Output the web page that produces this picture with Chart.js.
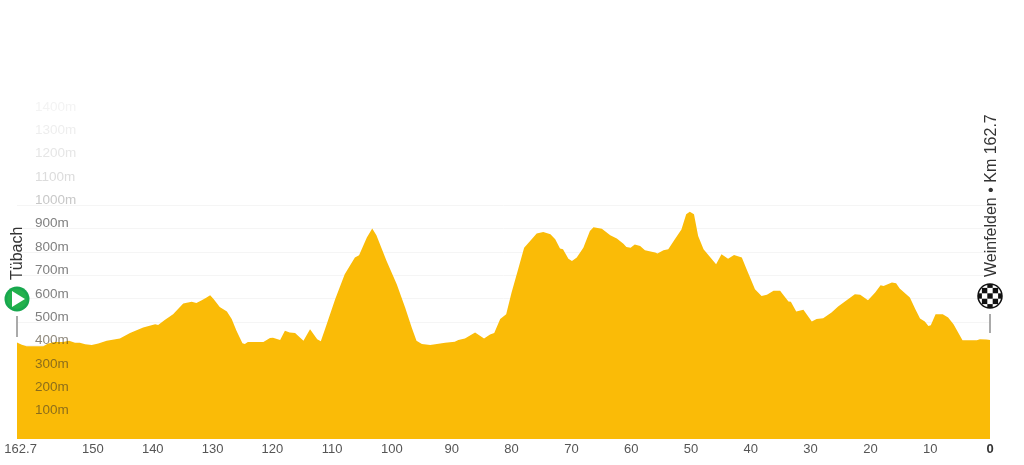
<!DOCTYPE html>
<html>
<head>
<meta charset="utf-8">
<title>Etappenprofil</title>
<style>
  html, body { margin: 0; padding: 0; background: #fff; }
  #profil { display: block; }
</style>
<script src="https://cdn.jsdelivr.net/npm/chart.js@4/dist/chart.umd.min.js"></script>
</head>
<body>
<canvas id="profil" width="1024" height="465"></canvas>
<script>
const kmRest = [162.7,161.9,161.1,158.3,157.5,156.4,155.0,154.0,153.0,152.2,151.3,150.2,149.1,147.7,145.5,143.8,141.6,139.6,139.1,138.0,136.6,134.9,133.5,132.7,131.8,131.0,130.4,129.8,128.8,127.6,126.8,126.0,125.0,124.6,124.1,121.5,120.4,119.9,118.7,117.9,117.1,116.2,114.8,113.7,112.5,111.9,111.2,109.5,107.9,106.2,105.5,104.2,103.3,102.6,100.9,99.2,97.8,96.7,95.9,95.0,93.6,91.1,89.5,88.9,87.8,86.1,84.6,83.6,82.9,81.9,80.9,80.0,78.9,77.9,76.9,75.8,74.7,73.5,72.7,71.9,71.4,70.5,69.9,69.1,68.0,66.9,66.3,64.9,63.5,62.4,61.3,60.8,60.1,59.4,58.5,57.7,56.0,55.6,54.6,53.8,52.7,51.6,50.8,50.2,49.5,48.8,47.9,45.8,44.9,43.8,42.8,41.5,40.7,39.3,38.2,37.3,36.2,35.1,33.7,33.3,32.4,31.2,29.8,29.0,27.9,26.5,25.4,22.6,21.7,20.4,19.2,18.3,17.8,16.4,15.7,15.1,13.4,12.5,11.7,10.9,10.3,9.9,9.1,7.9,7.0,6.1,4.6,2.2,1.7,0.6,0];
const hoehe = [413,403,397,397,409,415,415,420,412,412,405,402,409,420,430,454,477,491,488,509,534,580,587,582,594,606,615,598,565,546,513,463,410,406,415,415,432,433,424,463,456,453,420,470,427,418,470,598,705,777,786,862,901,872,762,662,563,477,420,406,402,412,416,424,430,456,430,447,453,513,534,627,727,819,848,880,886,876,855,815,812,772,762,777,819,890,906,900,872,858,836,822,819,833,826,808,798,794,808,812,855,897,962,973,962,869,812,748,791,772,788,777,727,641,612,617,634,634,588,587,546,553,503,513,517,541,567,620,617,594,627,658,655,670,667,644,606,556,516,503,484,487,534,534,520,491,423,423,427,426,424];
const kmTicks = [162.7,150,140,130,120,110,100,90,80,70,60,50,40,30,20,10,0];
const hoeheTicks = [100,200,300,400,500,600,700,800,900,1000,1100,1200,1300,1400];
const startName = "Tübach";
const zielName = "Weinfelden • Km 162.7";

const ctx = document.getElementById("profil").getContext("2d");
const schrift = "'Liberation Sans', Arial, sans-serif";

// obere Labels laufen nach oben hin aus
const labelFarben = { 1000: "#c8c8c8", 1100: "#dcdcdc", 1200: "#e6e6e6", 1300: "#eeeeee", 1400: "#f3f3f3" };

function startMarker(c, x, y) {
  c.beginPath(); c.arc(x, y, 12.5, 0, Math.PI * 2); c.fillStyle = "#17a74e"; c.fill();
  c.beginPath(); c.arc(x, y, 10, 0, Math.PI * 2); c.fillStyle = "#22b14c"; c.fill();
  c.beginPath(); c.moveTo(x - 5, y - 8); c.lineTo(x + 8, y); c.lineTo(x - 5, y + 8); c.closePath();
  c.fillStyle = "#fff"; c.fill();
}

function zielMarker(c, x, y) {
  const r = 12, f = 5.4;
  c.save();
  c.beginPath(); c.arc(x, y, r, 0, Math.PI * 2); c.fillStyle = "#fff"; c.fill(); c.clip();
  c.fillStyle = "#111";
  for (let i = -2; i <= 2; i++) {
    for (let j = -2; j <= 2; j++) {
      if ((i + j) % 2 === 0) c.fillRect(x + (i - 0.5) * f, y + (j - 0.5) * f, f, f);
    }
  }
  c.restore();
  c.beginPath(); c.arc(x, y, r, 0, Math.PI * 2); c.strokeStyle = "#111"; c.lineWidth = 1.5; c.stroke();
}

function senkrecht(c, text, x, y) {
  c.save();
  c.translate(x, y);
  c.rotate(-Math.PI / 2);
  c.font = "16px " + schrift;
  c.fillStyle = "#333";
  c.textAlign = "left";
  c.textBaseline = "alphabetic";
  c.fillText(text, 0, 0);
  c.restore();
}

const markerPlugin = {
  id: "marker",
  afterDraw(chart) {
    const c = chart.ctx;
    const xs = chart.scales.x.getPixelForValue(kmRest[0]);
    const xz = chart.scales.x.getPixelForValue(0);
    c.save();
    c.strokeStyle = "#aaa";
    c.lineWidth = 2;
    c.beginPath(); c.moveTo(xs, 316); c.lineTo(xs, 337); c.stroke();
    c.beginPath(); c.moveTo(xz, 314); c.lineTo(xz, 333); c.stroke();
    c.restore();
    startMarker(c, xs, 299);
    zielMarker(c, xz, 296);
    senkrecht(c, startName, xs + 5, 280);
    senkrecht(c, zielName, xz + 6, 277);
  }
};

const profilChart = new Chart(ctx, {
  type: "line",
  data: {
    datasets: [{
      data: kmRest.map((k, i) => ({ x: k, y: hoehe[i] })),
      backgroundColor: "#fabb07",
      borderWidth: 0,
      pointRadius: 0,
      tension: 0,
      fill: "origin"
    }]
  },
  options: {
    responsive: false,
    animation: false,
    layout: { padding: { left: 17, right: 34, top: 112, bottom: 0 } },
    plugins: { legend: { display: false }, tooltip: { enabled: false } },
    scales: {
      x: {
        type: "linear",
        reverse: true,
        min: 0,
        max: 162.7,
        afterBuildTicks: s => { s.ticks = kmTicks.map(v => ({ value: v })); },
        afterFit: s => { s.height = 25; s.paddingLeft = 0; s.paddingRight = 0; },
        grid: { display: false, tickLength: 0 },
        border: { display: false },
        ticks: {
          autoSkip: false,
          maxRotation: 0,
          padding: 3,
          callback: v => (v === 162.7 ? "  162.7" : String(v)),
          font: c => ({ family: schrift, size: 13, weight: c.tick && c.tick.value === 0 ? "bold" : "normal" }),
          color: c => (c.tick && c.tick.value === 0 ? "#333" : "#555")
        }
      },
      y: {
        min: 0,
        max: 1400,
        afterBuildTicks: s => { s.ticks = hoeheTicks.map(v => ({ value: v })); },
        afterFit: s => { s.width = 0; },
        border: { display: false },
        grid: {
          drawTicks: false,
          color: c => (c.tick && c.tick.value <= 1000 ? "#f5f5f5" : "transparent")
        },
        ticks: {
          mirror: true,
          z: 1,
          padding: 18,
          labelOffset: -5,
          autoSkip: false,
          callback: v => v + "m",
          font: { family: schrift, size: 13.5 },
          color: c => {
            const v = c.tick ? c.tick.value : 0;
            if (labelFarben[v]) return labelFarben[v];
            return v <= 400 ? "rgba(70,60,40,0.62)" : "#808080";
          }
        }
      }
    }
  },
  plugins: [markerPlugin]
});
</script>
</body>
</html>
